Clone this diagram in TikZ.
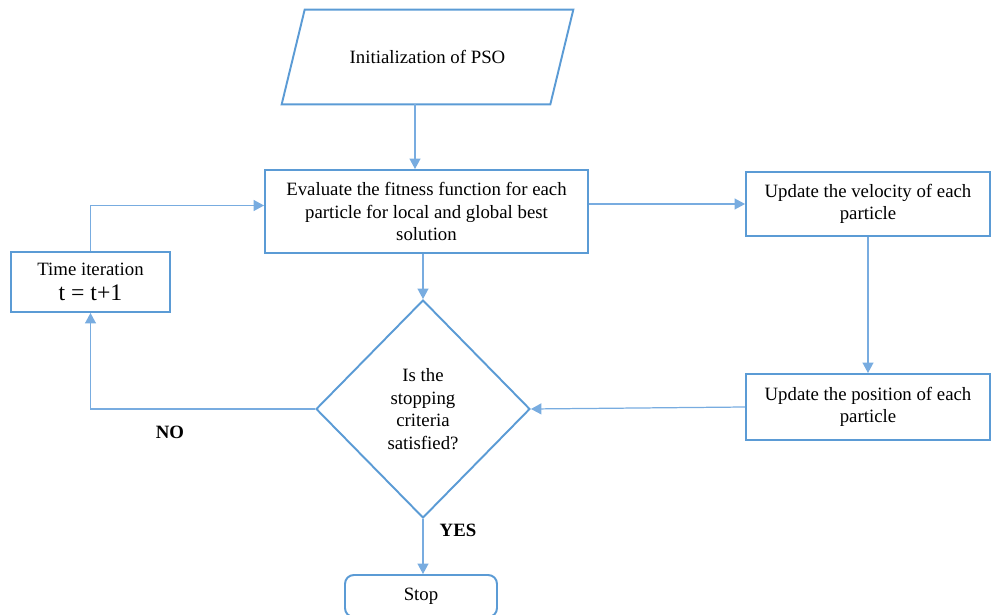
\documentclass[tikz,border=0pt]{standalone}
\usepackage{fontspec}
\setmainfont{Liberation Serif}
\usetikzlibrary{arrows.meta,shapes.geometric}
\definecolor{flowblue}{RGB}{91,155,213}
\definecolor{linkblue}{RGB}{120,172,224}

\begin{document}
\begin{tikzpicture}[x=0.02cm, y=-0.02cm,
	every node/.style={font=\fontsize{10.7}{12.8}\selectfont, align=center},
	>={Triangle[length=2.1mm, width=2.2mm]},
	procbox/.style={draw=flowblue, line width=1.1pt, inner sep=2pt},
	iobox/.style={draw=flowblue, line width=1.1pt, line join=miter},
	decision/.style={draw=flowblue, line width=1.1pt, diamond, inner sep=0pt, minimum width=4.28cm, minimum height=4.36cm},
	link/.style={->, draw=linkblue, line width=0.7pt}]
	\useasboundingbox (0,0) rectangle (992,615);
	% blocks
	\node[minimum width=5.36cm, minimum height=1.88cm] (init) at (427.5,57) {Initialization of PSO};
	\draw[iobox] ([xshift=-0.23cm]init.south west) -- ([xshift=0.23cm]init.north west)
		-- ([xshift=0.23cm]init.north east) -- ([xshift=-0.23cm]init.south east) -- cycle;
	\node[procbox, minimum width=6.46cm, minimum height=1.66cm] (eval) at (426.5,211.5)
		{Evaluate the fitness function for each\\particle for local and global best\\solution};
	\node[procbox, minimum width=4.88cm, minimum height=1.28cm] (vel) at (868,204)
		{Update the velocity of each\\particle};
	\node[procbox, minimum width=4.88cm, minimum height=1.32cm] (pos) at (868,407)
		{Update the position of each\\particle};
	\node[decision] (check) at (423,409) {Is the\\stopping\\criteria\\satisfied?};
	\node[procbox, minimum width=3.18cm, minimum height=1.2cm] (time) at (90.5,282)
		{Time iteration\\[1pt]{\fontsize{13.5}{15}\selectfont t = t+1}};
	\node[procbox, rounded corners=5pt, minimum width=3.04cm, minimum height=0.84cm] (stop) at (421,596) {Stop};
	% labels
	\node[font=\fontsize{10.7}{12.8}\selectfont\bfseries] (no) at (170,432) {NO};
	\node[font=\fontsize{10.7}{12.8}\selectfont\bfseries] (yes) at (458,530) {YES};
	% connectors
	\draw[link] ([xshift=-0.25cm]init.south) -- ([xshift=-0.25cm]init.south |- eval.north);
	\draw[link] (vel.west -| eval.east) -- (vel.west);
	\draw[link] (vel.south) -- (pos.north);
	\draw[link] (pos.west) -- (check.east);
	\draw[link] (check.north |- eval.south) -- (check.north);
	\draw[link] (check.west) -| (time.south);
	\draw[link] (time.north) |- ([yshift=0.12cm]eval.west);
	\draw[link] (check.south) -- (check.south |- stop.north);
\end{tikzpicture}
\end{document}
